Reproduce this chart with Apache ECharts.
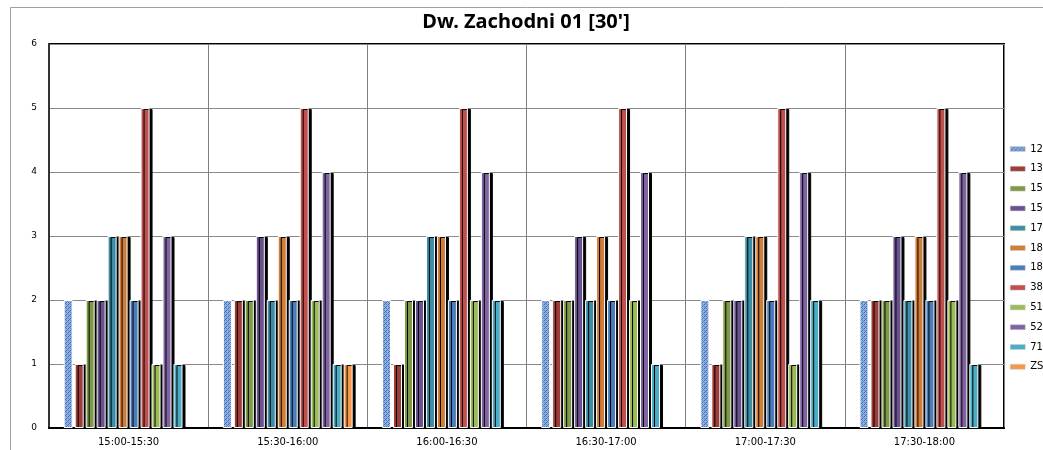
<!DOCTYPE html>
<html>
<head>
<meta charset="utf-8">
<script src="https://cdn.jsdelivr.net/npm/echarts@6/dist/echarts.min.js"></script>
<style>
  html, body { margin: 0; padding: 0; background: #fff; }
  #chart { width: 1043px; height: 450px; }
</style>
</head>
<body>
<div id="chart"></div>
<script>
  const periods = ["15:00-15:30", "15:30-16:00", "16:00-16:30", "16:30-17:00", "17:00-17:30", "17:30-18:00"];

  // one row per line, values per half hour
  const lines = [
    { name: "12",        color: "pattern", values: [2, 2, 2, 2, 2, 2] },
    { name: "13",        color: "#9E3C39", values: [1, 2, 1, 2, 1, 2] },
    { name: "15",        color: "#7E9A48", values: [2, 2, 2, 2, 2, 2] },
    { name: "15\u200b",  color: "#6A5190", values: [2, 3, 2, 3, 2, 3] },
    { name: "17",        color: "#3B8EA5", values: [3, 2, 3, 2, 3, 2] },
    { name: "18",        color: "#D07D37", values: [3, 3, 3, 3, 3, 3] },
    { name: "18\u200b",  color: "#4A7EBB", values: [2, 2, 2, 2, 2, 2] },
    { name: "38",        color: "#C0504D", values: [5, 5, 5, 5, 5, 5] },
    { name: "51",        color: "#9BBB59", values: [1, 2, 2, 2, 1, 2] },
    { name: "52",        color: "#8064A2", values: [3, 4, 4, 4, 4, 4] },
    { name: "71",        color: "#4BACC6", values: [1, 1, 2, 1, 2, 1] },
    { name: "ZS2",       color: "#F79646", values: [0, 1, 0, 0, 0, 0] }
  ];

  // dotted blue fill of the first series
  function makePattern() {
    const c = document.createElement("canvas");
    c.width = 4;
    c.height = 4;
    const ctx = c.getContext("2d");
    ctx.fillStyle = "#8FB0E0";
    ctx.fillRect(0, 0, 4, 4);
    ctx.fillStyle = "#3F6AAE";
    ctx.fillRect(0, 0, 1, 1);
    ctx.fillRect(2, 2, 1, 1);
    ctx.fillRect(1, 3, 1, 1);
    ctx.fillStyle = "#5F86C4";
    ctx.fillRect(2, 0, 1, 1);
    ctx.fillRect(0, 2, 1, 1);
    ctx.fillRect(3, 1, 1, 1);
    return c;
  }
  const pattern = { image: makePattern(), repeat: "repeat" };

  const series = lines.map((l) => {
    const isPattern = l.color === "pattern";
    return {
      name: l.name,
      type: "bar",
      barWidth: 9,
      barGap: "22%",
      data: l.values.map((v) => (v === 0 ? null : v)),
      itemStyle: {
        color: isPattern ? pattern : l.color,
        borderColor: "#fff",
        borderWidth: 1,
        shadowColor: isPattern ? "transparent" : "#000",
        shadowBlur: 0,
        shadowOffsetX: 3,
        shadowOffsetY: 1,
      },
      emphasis: { disabled: true },
    };
  });

  const chart = echarts.init(document.getElementById("chart"));
  chart.setOption({
    animation: false,
    backgroundColor: "#fff",
    title: {
      text: "Dw. Zachodni 01 [30']",
      left: 521,
      top: 7,
      textAlign: "center",
      textStyle: { fontFamily: "Noto Sans", fontSize: 20, fontWeight: "bold", color: "#000" },
    },
    grid: {
      left: 49,
      right: 39,
      top: 44,
      bottom: 22,
      show: true,
      borderColor: "#000",
      borderWidth: 2,
      containLabel: false,
    },
    legend: {
      orient: "vertical",
      left: 1010,
      top: 144,
      padding: 0,
      icon: "rect",
      itemWidth: 15,
      itemHeight: 5,
      itemGap: 9.8,
      itemStyle: { shadowColor: "transparent", borderColor: "#ccc", borderWidth: 0.5 },
      textStyle: { fontFamily: "DejaVu Sans", fontSize: 10, color: "#000", lineHeight: 10, padding: [0, 0, 0, 0] },
    },
    xAxis: {
      type: "category",
      data: periods,
      axisTick: { show: false },
      axisLine: { lineStyle: { color: "#000", width: 2 } },
      axisLabel: { fontFamily: "DejaVu Sans", fontSize: 10, color: "#000", margin: 9 },
      splitLine: { show: true, lineStyle: { color: "#7f7f7f", width: 1 } },
    },
    yAxis: {
      type: "value",
      min: 0,
      max: 6,
      interval: 1,
      axisLine: { show: true, lineStyle: { color: "#333", width: 2 } },
      axisTick: { show: false },
      axisLabel: { fontFamily: "DejaVu Sans", fontSize: 9, color: "#000", margin: 12 },
      splitLine: { lineStyle: { color: "#8a8a8a", width: 1 } },
    },
    graphic: [
      {
        type: "rect",
        left: 8,
        top: 5,
        shape: { width: 1100, height: 500 },
        style: { fill: null, stroke: "#a0a0a0", lineWidth: 1 },
        silent: true,
      },
    ],
    series: series,
  });
</script>
</body>
</html>
